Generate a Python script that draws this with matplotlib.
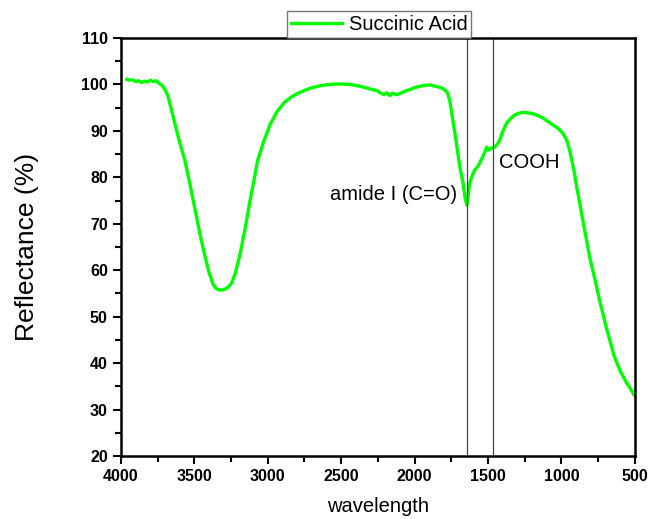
import matplotlib
matplotlib.use('Agg')
import matplotlib.pyplot as plt
from matplotlib.ticker import MultipleLocator

plt.rcParams['font.family'] = ['Liberation Sans', 'DejaVu Sans']

# Spectrum (wavenumber, reflectance %)
wavelength = [
    3960, 3940, 3920, 3900, 3880, 3860, 3840, 3820, 3800, 3780, 3760, 3740,
    3720, 3700, 3680, 3660, 3640, 3620, 3600, 3565, 3530, 3495, 3460, 3430,
    3400, 3373, 3350, 3326, 3300, 3271, 3245, 3220, 3190, 3156, 3120, 3090,
    3070, 3030, 2985, 2940, 2885, 2830, 2780, 2710, 2645, 2580, 2510, 2440,
    2370, 2300, 2250, 2235, 2210, 2190, 2170, 2150, 2120, 2100, 2070, 2030,
    2000, 1965, 1930, 1895, 1860, 1830, 1800, 1775, 1760, 1739, 1720, 1705,
    1690, 1671, 1655, 1644, 1635, 1624, 1605, 1590, 1570, 1556, 1535, 1520,
    1508, 1497, 1487, 1470, 1453, 1435, 1419, 1400, 1372, 1350, 1331, 1300,
    1263, 1230, 1195, 1160, 1127, 1090, 1058, 1020, 990, 963, 945, 929,
    910, 895, 875, 854, 830, 807, 782, 759, 740, 718, 695, 670,
    640, 602, 560, 520, 505,
]
reflectance = [
    101.1, 100.9, 101.0, 100.6, 100.8, 100.4, 100.7, 100.5, 100.9, 100.6, 100.8, 100.2,
    99.8, 98.9, 97.5, 95.0, 92.5, 90.0, 87.5, 83.7, 78.5, 73.0, 67.5, 63.3,
    59.5, 57.0, 56.0, 55.7, 55.8, 56.3, 57.3, 59.5, 63.3, 68.7, 75.1, 80.0,
    83.5, 87.5, 91.3, 94.0, 96.2, 97.5, 98.3, 99.2, 99.7, 100.0, 100.1, 100.0,
    99.6, 99.0, 98.6, 98.2, 97.8, 98.2, 97.6, 98.1, 97.8, 98.0, 98.5, 98.9,
    99.3, 99.6, 99.8, 99.9, 99.6, 99.4, 99.0, 98.2, 96.5, 92.3, 88.5, 85.2,
    82.0, 79.0, 75.5, 74.0, 76.0, 78.8, 80.5, 81.6, 82.3, 83.1, 84.5, 85.5,
    86.5, 85.9, 86.0, 86.4, 86.5, 87.2, 88.0, 89.8, 91.7, 92.5, 93.1, 93.7,
    94.0, 93.9, 93.7, 93.3, 92.8, 92.0, 91.3, 90.5, 89.5, 88.0, 86.0, 83.7,
    80.8, 77.9, 74.5, 70.8, 66.8, 62.8, 59.5, 56.4, 53.6, 50.8, 47.8, 45.0,
    41.5, 38.5, 36.0, 34.0, 33.2,
]
marker_lines = [1645, 1465]
series_name = 'Succinic Acid'

fig = plt.figure(figsize=(6.49, 5.19), dpi=100)
ax = fig.add_axes([0.1864, 0.1214, 0.7916, 0.8054])

ax.plot(wavelength, reflectance, color='#00ff00', lw=2.4, label=series_name)
for wl in marker_lines:
    ax.axvline(wl, color='#444444', lw=0.9)

ax.text(1712, 76.4, 'amide I (C=O)', ha='right', va='center', fontsize=14.5)
ax.text(1426, 83.1, 'COOH', ha='left', va='center', fontsize=14.5)

ax.set_xlim(4000, 500)
ax.set_ylim(20, 110)
ax.xaxis.set_major_locator(MultipleLocator(500))
ax.xaxis.set_minor_locator(MultipleLocator(250))
ax.yaxis.set_major_locator(MultipleLocator(10))
ax.yaxis.set_minor_locator(MultipleLocator(5))
ax.tick_params(which='major', length=6, width=1.5, direction='out')
ax.tick_params(which='minor', length=4, width=1.5, direction='out')
for lab in ax.get_xticklabels() + ax.get_yticklabels():
    lab.set_fontweight('bold')
    lab.set_fontsize(11.5)
for sp in ax.spines.values():
    sp.set_linewidth(1.8)

ax.set_xlabel('wavelength', fontsize=14.5, labelpad=9)
ax.set_ylabel('Reflectance (%)', fontsize=19, labelpad=30)

leg = ax.legend(loc='lower center', bbox_to_anchor=(0.503, 1.0),
                fontsize=14.5, frameon=True, fancybox=False,
                borderaxespad=0, handlelength=2.5, handletextpad=0.35,
                borderpad=0.2)
leg.get_frame().set_edgecolor('#555555')
leg.get_frame().set_linewidth(1.0)

fig.savefig('out.png', dpi=100)
